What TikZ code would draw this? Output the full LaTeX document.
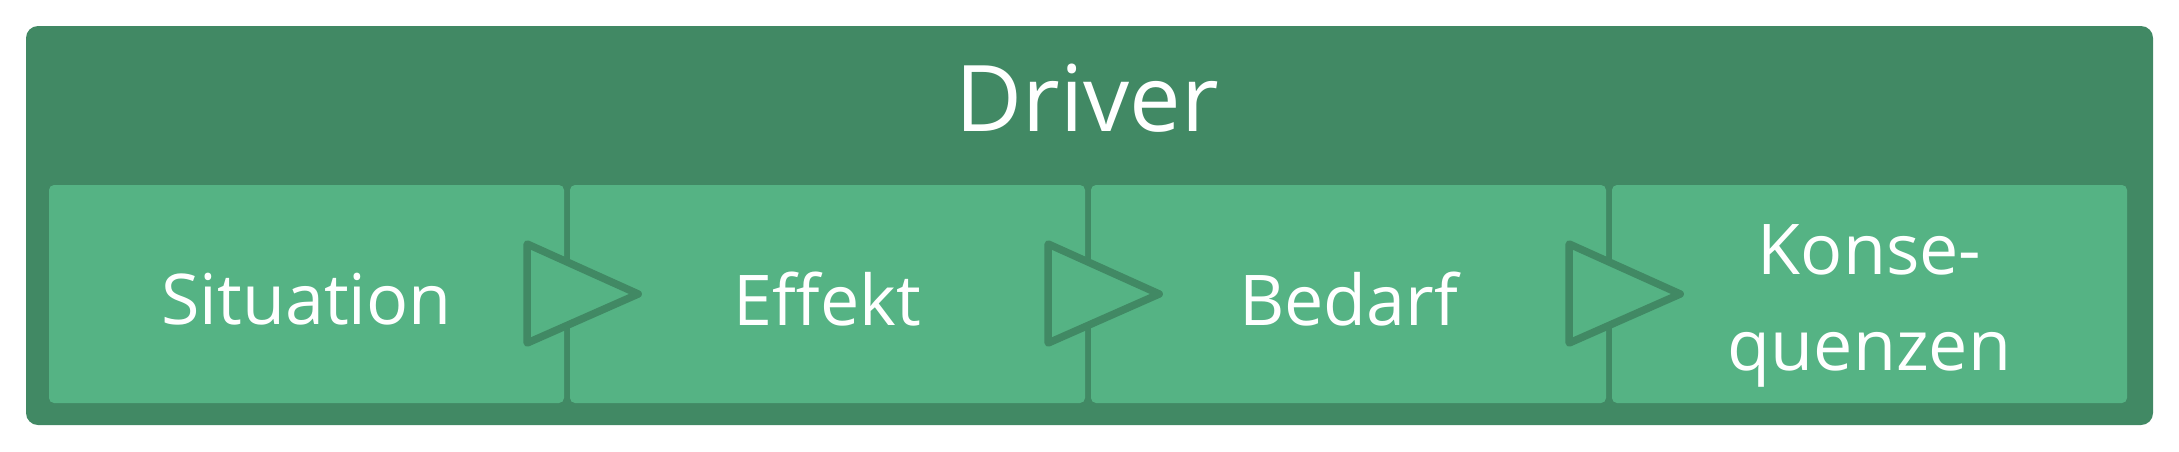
\documentclass[tikz,border=0pt]{standalone}
\usepackage{fontspec}
\setmainfont{Open Sans}
\usetikzlibrary{calc}
\definecolor{darkgreen}{HTML}{418964}
\definecolor{lightgreen}{HTML}{55B384}
\newcommand{\lowerby}[2]{\raisebox{-#1}[\height][\depth]{#2}}
\tikzset{
  outerbox/.style={fill=darkgreen, draw=none, rounded corners=12pt},
  stagebox/.style={fill=lightgreen, draw=none, rounded corners=5pt, minimum width=515pt, minimum height=218pt, inner sep=0pt, text=white, font=\fontsize{70}{96}\selectfont, align=center},
  title/.style={text=white, font=\fontsize{92}{110}\selectfont, inner sep=0pt},
  arrowtri/.style={fill=lightgreen, draw=darkgreen, line width=7.5pt, line join=round}
}
\begin{document}
\begin{tikzpicture}[x=1pt,y=-1pt]
\useasboundingbox (0,0) rectangle (2179,451);
\fill[outerbox] (26,26) rectangle (2153,425);
\node[title, anchor=base] (title) at (1087,131) {Driver};
\node[stagebox] (b1) at (306.5,294) {\lowerby{5pt}{Situation}};
\node[stagebox] (b2) at (827.5,294) {\lowerby{5pt}{Effekt}};
\node[stagebox] (b3) at (1348.5,294) {\lowerby{5pt}{Bedarf}};
\node[stagebox] (b4) at (1869.5,294) {\lowerby{12pt}{Konse-}\\\lowerby{12pt}{quenzen}};
\foreach \b in {b1,b2,b3}{
  \draw[arrowtri] ($(\b.east)+(-37,-50)$) -- ($(\b.east)+(74,0)$) -- ($(\b.east)+(-37,49)$) -- cycle;
}
\end{tikzpicture}
\end{document}
